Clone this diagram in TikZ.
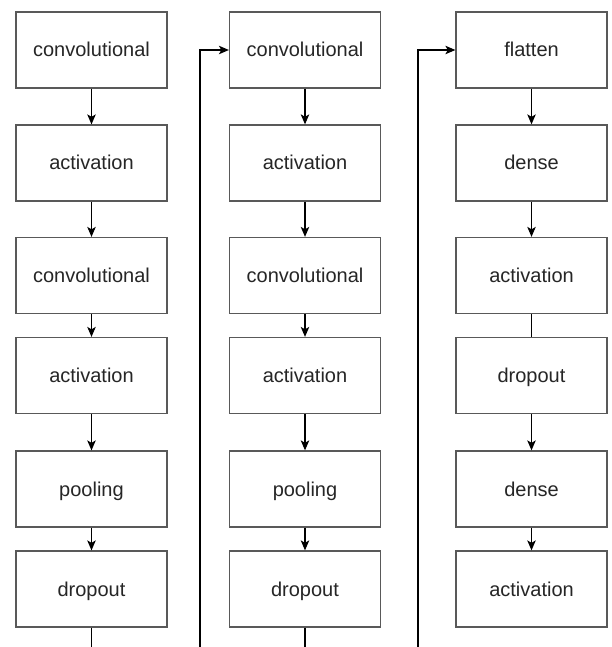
\documentclass[tikz,border=0pt]{standalone}
\usepackage{fontspec}
\setmainfont{Liberation Sans}
\usetikzlibrary{arrows.meta}
\begin{document}
\begin{tikzpicture}[x=1pt,y=-1pt,
  layer/.style={draw=black!65,line width=1.3pt,fill=white,minimum width=151pt,minimum height=76pt,inner sep=0pt,text height=15pt,text depth=1pt,font=\fontsize{20}{22}\selectfont,text=black!85},
  conn/.style={line width=1.1pt,-{Stealth[length=10pt,width=8.5pt,inset=2.5pt]}},
  plain/.style={line width=1.1pt}]
\useasboundingbox (0,0) rectangle (612,647);
% column 1
\node[layer] (a1) at (91.5,50) {convolutional};
\node[layer] (a2) at (91.5,163) {activation};
\node[layer] (a3) at (91.5,275.5) {convolutional};
\node[layer] (a4) at (91.5,375.5) {activation};
\node[layer] (a5) at (91.5,489) {pooling};
\node[layer] (a6) at (91.5,589) {dropout};
% column 2
\node[layer] (b1) at (305,50) {convolutional};
\node[layer] (b2) at (305,163) {activation};
\node[layer] (b3) at (305,275.5) {convolutional};
\node[layer] (b4) at (305,375.5) {activation};
\node[layer] (b5) at (305,489) {pooling};
\node[layer] (b6) at (305,589) {dropout};
% column 3
\node[layer] (c1) at (531.5,50) {flatten};
\node[layer] (c2) at (531.5,163) {dense};
\node[layer] (c3) at (531.5,275.5) {activation};
\node[layer] (c4) at (531.5,375.5) {dropout};
\node[layer] (c5) at (531.5,489) {dense};
\node[layer] (c6) at (531.5,589) {activation};
% connectors
\foreach \c in {a,b}{
  \draw[conn] (\c1) -- (\c2);
  \draw[conn] (\c2) -- (\c3);
  \draw[conn] (\c3) -- (\c4);
  \draw[conn] (\c4) -- (\c5);
  \draw[conn] (\c5) -- (\c6);
}
\draw[conn] (c1) -- (c2);
\draw[conn] (c2) -- (c3);
\draw[plain] (c3) -- (c4);
\draw[conn] (c4) -- (c5);
\draw[conn] (c5) -- (c6);
% outgoing / incoming links at bottom
\coordinate (a6out) at (91.5,648);
\coordinate (b6out) at (305,648);
\coordinate (bin) at (200,648);
\coordinate (cin) at (418,648);
\draw[plain] (a6) -- (a6out);
\draw[plain] (b6) -- (b6out);
\draw[conn] (bin) -- (200,50) -- (b1.west);
\draw[conn] (cin) -- (418,50) -- (c1.west);
\end{tikzpicture}
\end{document}
